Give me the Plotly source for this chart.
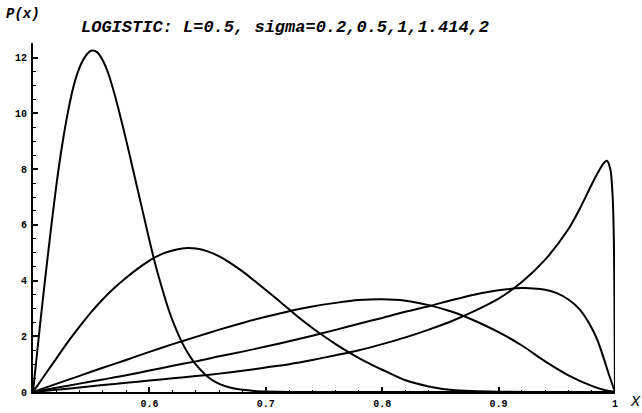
import plotly.graph_objects as go

# Density curves P(x) for the logistic transform, L = 0.5, five sigma values
x_s02 = [0.5, 0.505, 0.51, 0.515, 0.52, 0.525, 0.53, 0.535, 0.54, 0.545, 0.55, 0.555,
         0.56, 0.565, 0.57, 0.575, 0.58, 0.585, 0.59, 0.595, 0.6, 0.605, 0.61, 0.615,
         0.62, 0.625, 0.63, 0.635, 0.64, 0.65, 0.66, 0.67, 0.68, 0.69, 0.7, 0.72, 0.8, 1.0]
p_s02 = [0.0, 2.0, 3.9, 5.7, 7.4, 8.85, 10.05, 11.0, 11.65, 12.05, 12.25, 12.2,
         11.9, 11.4, 10.7, 9.9, 9.05, 8.15, 7.25, 6.35, 5.45, 4.6, 3.85, 3.15,
         2.55, 2.05, 1.62, 1.27, 0.98, 0.55, 0.29, 0.15, 0.08, 0.04, 0.02, 0.0, 0.0, 0.0]

x_s05 = [0.5, 0.51, 0.52, 0.53, 0.54, 0.55, 0.56, 0.57, 0.58, 0.59, 0.6, 0.61, 0.62,
         0.63, 0.64, 0.65, 0.66, 0.67, 0.68, 0.69, 0.7, 0.71, 0.72, 0.73, 0.74, 0.75,
         0.76, 0.77, 0.78, 0.79, 0.8, 0.82, 0.84, 0.86, 0.88, 0.9, 0.95, 1.0]
p_s05 = [0.0, 0.6, 1.2, 1.8, 2.35, 2.87, 3.33, 3.74, 4.1, 4.43, 4.72, 4.94, 5.08,
         5.16, 5.15, 5.05, 4.87, 4.62, 4.33, 4.0, 3.66, 3.32, 2.97, 2.62, 2.3, 2.0,
         1.72, 1.46, 1.22, 1.0, 0.8, 0.42, 0.2, 0.07, 0.03, 0.01, 0.0, 0.0]

x_s1 = [0.5, 0.52, 0.54, 0.56, 0.58, 0.6, 0.62, 0.64, 0.66, 0.68, 0.7, 0.72, 0.74,
        0.76, 0.78, 0.8, 0.82, 0.84, 0.86, 0.88, 0.9, 0.92, 0.94, 0.96, 0.98, 0.99, 1.0]
p_s1 = [0.0, 0.29, 0.58, 0.87, 1.15, 1.44, 1.72, 1.98, 2.24, 2.48, 2.7, 2.9, 3.07,
        3.2, 3.3, 3.33, 3.28, 3.12, 2.88, 2.55, 2.15, 1.67, 1.1, 0.6, 0.22, 0.08, 0.0]

x_s1414 = [0.5, 0.52, 0.54, 0.56, 0.58, 0.6, 0.62, 0.64, 0.66, 0.68, 0.7, 0.72, 0.74,
           0.76, 0.78, 0.8, 0.82, 0.84, 0.86, 0.88, 0.9, 0.92, 0.93, 0.94, 0.95, 0.96,
           0.97, 0.98, 0.985, 0.99, 0.995, 1.0]
p_s1414 = [0.0, 0.15, 0.3, 0.45, 0.6, 0.77, 0.94, 1.1, 1.28, 1.45, 1.63, 1.82, 2.02,
           2.23, 2.45, 2.66, 2.88, 3.08, 3.3, 3.5, 3.65, 3.73, 3.72, 3.67, 3.55, 3.32,
           2.95, 2.3, 1.85, 1.25, 0.6, 0.0]

x_s2 = [0.5, 0.52, 0.54, 0.56, 0.58, 0.6, 0.62, 0.64, 0.66, 0.68, 0.7, 0.72, 0.74,
        0.76, 0.78, 0.8, 0.82, 0.84, 0.86, 0.88, 0.9, 0.92, 0.94, 0.96, 0.97, 0.98,
        0.985, 0.99, 0.993, 0.996, 0.998, 0.999, 0.9995, 1.0]
p_s2 = [0.0, 0.08, 0.16, 0.25, 0.33, 0.41, 0.49, 0.57, 0.66, 0.76, 0.88, 1.0, 1.15,
        1.32, 1.5, 1.72, 1.96, 2.24, 2.55, 2.92, 3.35, 3.95, 4.75, 5.85, 6.6, 7.45,
        7.85, 8.2, 8.3, 8.0, 7.0, 5.5, 3.5, 0.0]

series = [(x_s02, p_s02), (x_s05, p_s05), (x_s1, p_s1), (x_s1414, p_s1414), (x_s2, p_s2)]

x_tick_vals = [0.6, 0.7, 0.8, 0.9, 1.0]
x_tick_text = ["0.6", "0.7", "0.8", "0.9", "1"]
y_tick_vals = [0, 2, 4, 6, 8, 10, 12]
y_tick_text = ["0", "2", "4", "6", "8", "10", "12"]

title_text = "LOGISTIC: L=0.5, sigma=0.2,0.5,1,1.414,2"

mono = "Liberation Mono, Courier New, monospace"

fig = go.Figure()
for xs, ps in series:
    fig.add_trace(go.Scatter(
        x=xs, y=ps, mode="lines",
        line=dict(color="black", width=2, shape="spline", smoothing=0.8),
        hoverinfo="skip", showlegend=False,
    ))

fig.update_layout(
    width=642, height=413,
    margin=dict(l=33, r=27, t=43, b=20.5, pad=0),
    paper_bgcolor="white", plot_bgcolor="white",
    showlegend=False,
    xaxis=dict(
        range=[0.5, 1.0], showgrid=False, zeroline=False, automargin=False,
        showline=True, linecolor="black", linewidth=2,
        tickmode="array", tickvals=x_tick_vals, ticktext=x_tick_text,
        ticks="inside", ticklen=5, tickwidth=1.5, tickcolor="black",
        ticklabelstandoff=1,
        tickfont=dict(family=mono, size=10, color="black", weight="bold"),
        minor=dict(dtick=0.02, tick0=0.5, ticks="inside", ticklen=2.5,
                   tickwidth=1, tickcolor="black"),
    ),
    yaxis=dict(
        range=[0, 12.53], showgrid=False, zeroline=False, automargin=False,
        showline=True, linecolor="black", linewidth=2,
        tickmode="array", tickvals=y_tick_vals, ticktext=y_tick_text,
        ticks="inside", ticklen=5, tickwidth=1.5, tickcolor="black",
        ticklabelstandoff=2,
        tickfont=dict(family=mono, size=10, color="black", weight="bold"),
        minor=dict(dtick=0.5, tick0=0, ticks="inside", ticklen=2.5,
                   tickwidth=1, tickcolor="black"),
    ),
    annotations=[
        dict(text=title_text, xref="paper", yref="paper", x=0.079, y=1.043,
             xanchor="left", yanchor="middle", showarrow=False,
             font=dict(family=mono, size=17, color="black", style="italic",
                       weight="bold")),
        dict(text="P(x)", xref="paper", yref="paper", x=-0.05, y=1.083,
             xanchor="left", yanchor="middle", showarrow=False,
             font=dict(family=mono, size=14, color="black", style="italic",
                       weight="bold")),
        dict(text="X", xref="paper", yref="paper", x=1.022, y=-0.03,
             xanchor="left", yanchor="middle", showarrow=False,
             font=dict(family=mono, size=15, color="black", style="italic")),
    ],
)

fig.write_html("out.html")
